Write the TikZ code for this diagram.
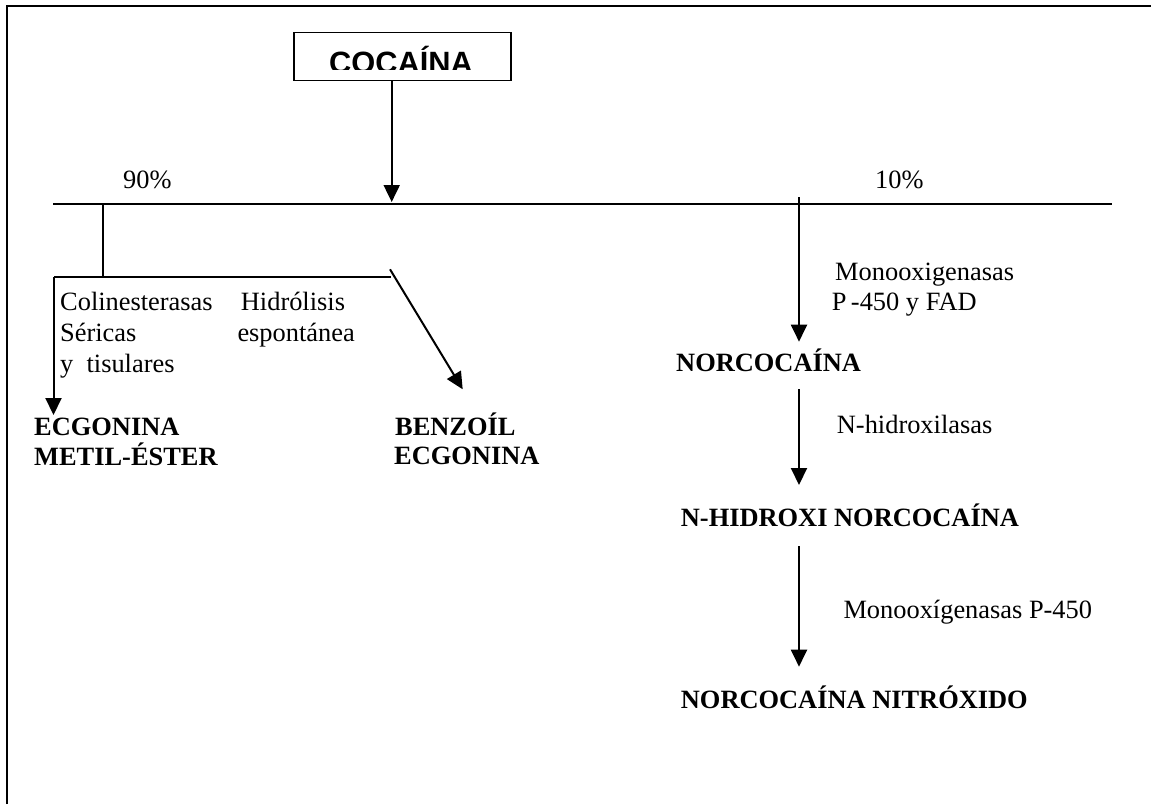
\documentclass[tikz,border=0pt]{standalone}
\usepackage{fontspec}
\setmainfont{Liberation Serif}
\newfontfamily\arialfont{Liberation Sans}
\usetikzlibrary{arrows.meta}
\begin{document}
\begin{tikzpicture}[x=1pt,y=-1pt,
  txt/.style={anchor=base west, inner sep=0pt, font=\fontsize{26.4}{30}\selectfont},
  btxt/.style={anchor=base west, inner sep=0pt, font=\fontsize{26.4}{30}\selectfont\bfseries},
  conn/.style={line width=2pt},
  arr/.style={line width=2pt, -{Triangle[width=16pt,length=17pt]}},
  bar/.style={line width=1.6pt}]
\useasboundingbox (0,0) rectangle (1151,804);
% frame
\draw[line width=2.2pt] (7,804) -- (7,6) -- (1151,6);
% COCAINA box
\node[draw, line width=1.5pt, minimum width=217pt, minimum height=48pt, inner sep=0pt] (coc) at (402.5,56.7) {};
\begin{scope}
\clip (295,34) rectangle (510,69);
\node[anchor=base west, inner sep=0pt, font=\arialfont\fontsize{30.8}{34}\selectfont\bfseries] (coctxt) at (329,73.7) {COCAÍNA};
\end{scope}
% main horizontal line
\coordinate (hl) at (53,204);
\coordinate (hr) at (1112,204);
\coordinate (split) at (391.7,202);
\draw[bar] (hl) -- (hr);
\draw[arr] (coc.south -| split) -- (split);
\node[txt] (p90) at (123,188) {90\%};
\node[txt] (p10) at (875,188) {10\%};
% left branch
\coordinate (j1) at (102.5,204);
\coordinate (j2) at (102.5,277);
\coordinate (lc) at (53.5,277);
\coordinate (rc) at (390.7,277);
\coordinate (ltip) at (53.5,415);
\coordinate (ds) at (390,269.3);
\coordinate (dtip) at (462.7,389.3);
\draw[conn] (j1) -- (j2);
\draw[conn] (rc) -- (lc);
\draw[arr] (lc) -- (ltip);
\draw[arr] (ds) -- (dtip);
\node[txt] (col1) at (60,310.7) {Colinesterasas};
\node[txt] (col2) at (60,341.5) {Séricas};
\node[txt] (col3) at (60,372) {y~ tisulares};
\node[txt] (hid1) at (240.7,310.7) {Hidrólisis};
\node[txt] (hid2) at (237.3,341.5) {espontánea};
\node[btxt] (ecg1) at (34,435) {ECGONINA};
\node[btxt] (ecg2) at (34,465) {METIL-ÉSTER};
\node[btxt] (ben1) at (395,435) {BENZOÍL};
\node[btxt] (ben2) at (394,464.5) {ECGONINA};
% right branch
\coordinate (r0) at (799,197);
\coordinate (r1) at (799,341.7);
\coordinate (r2) at (799,389.3);
\coordinate (r3) at (799,485);
\coordinate (r4) at (799,546);
\coordinate (r5) at (799,666.7);
\draw[arr] (r0) -- (r1);
\draw[arr] (r2) -- (r3);
\draw[arr] (r4) -- (r5);
\node[txt] (mono1) at (835,280) {Monooxigenasas};
\node[txt] (mono2) at (831.7,310) {P\,-450 y FAD};
\node[btxt] (nor) at (676,371.7) {NORCOCAÍNA};
\node[txt] (nhl) at (836.7,433) {N-hidroxilasas};
\node[btxt] (nhid) at (680.7,526) {N-HIDROXI NORCOCAÍNA};
\node[txt] (mono3) at (843.3,618.3) {Monooxígenasas P-450};
\node[btxt] (nitro) at (680.7,708.3) {NORCOCAÍNA NITRÓXIDO};
\end{tikzpicture}
\end{document}
